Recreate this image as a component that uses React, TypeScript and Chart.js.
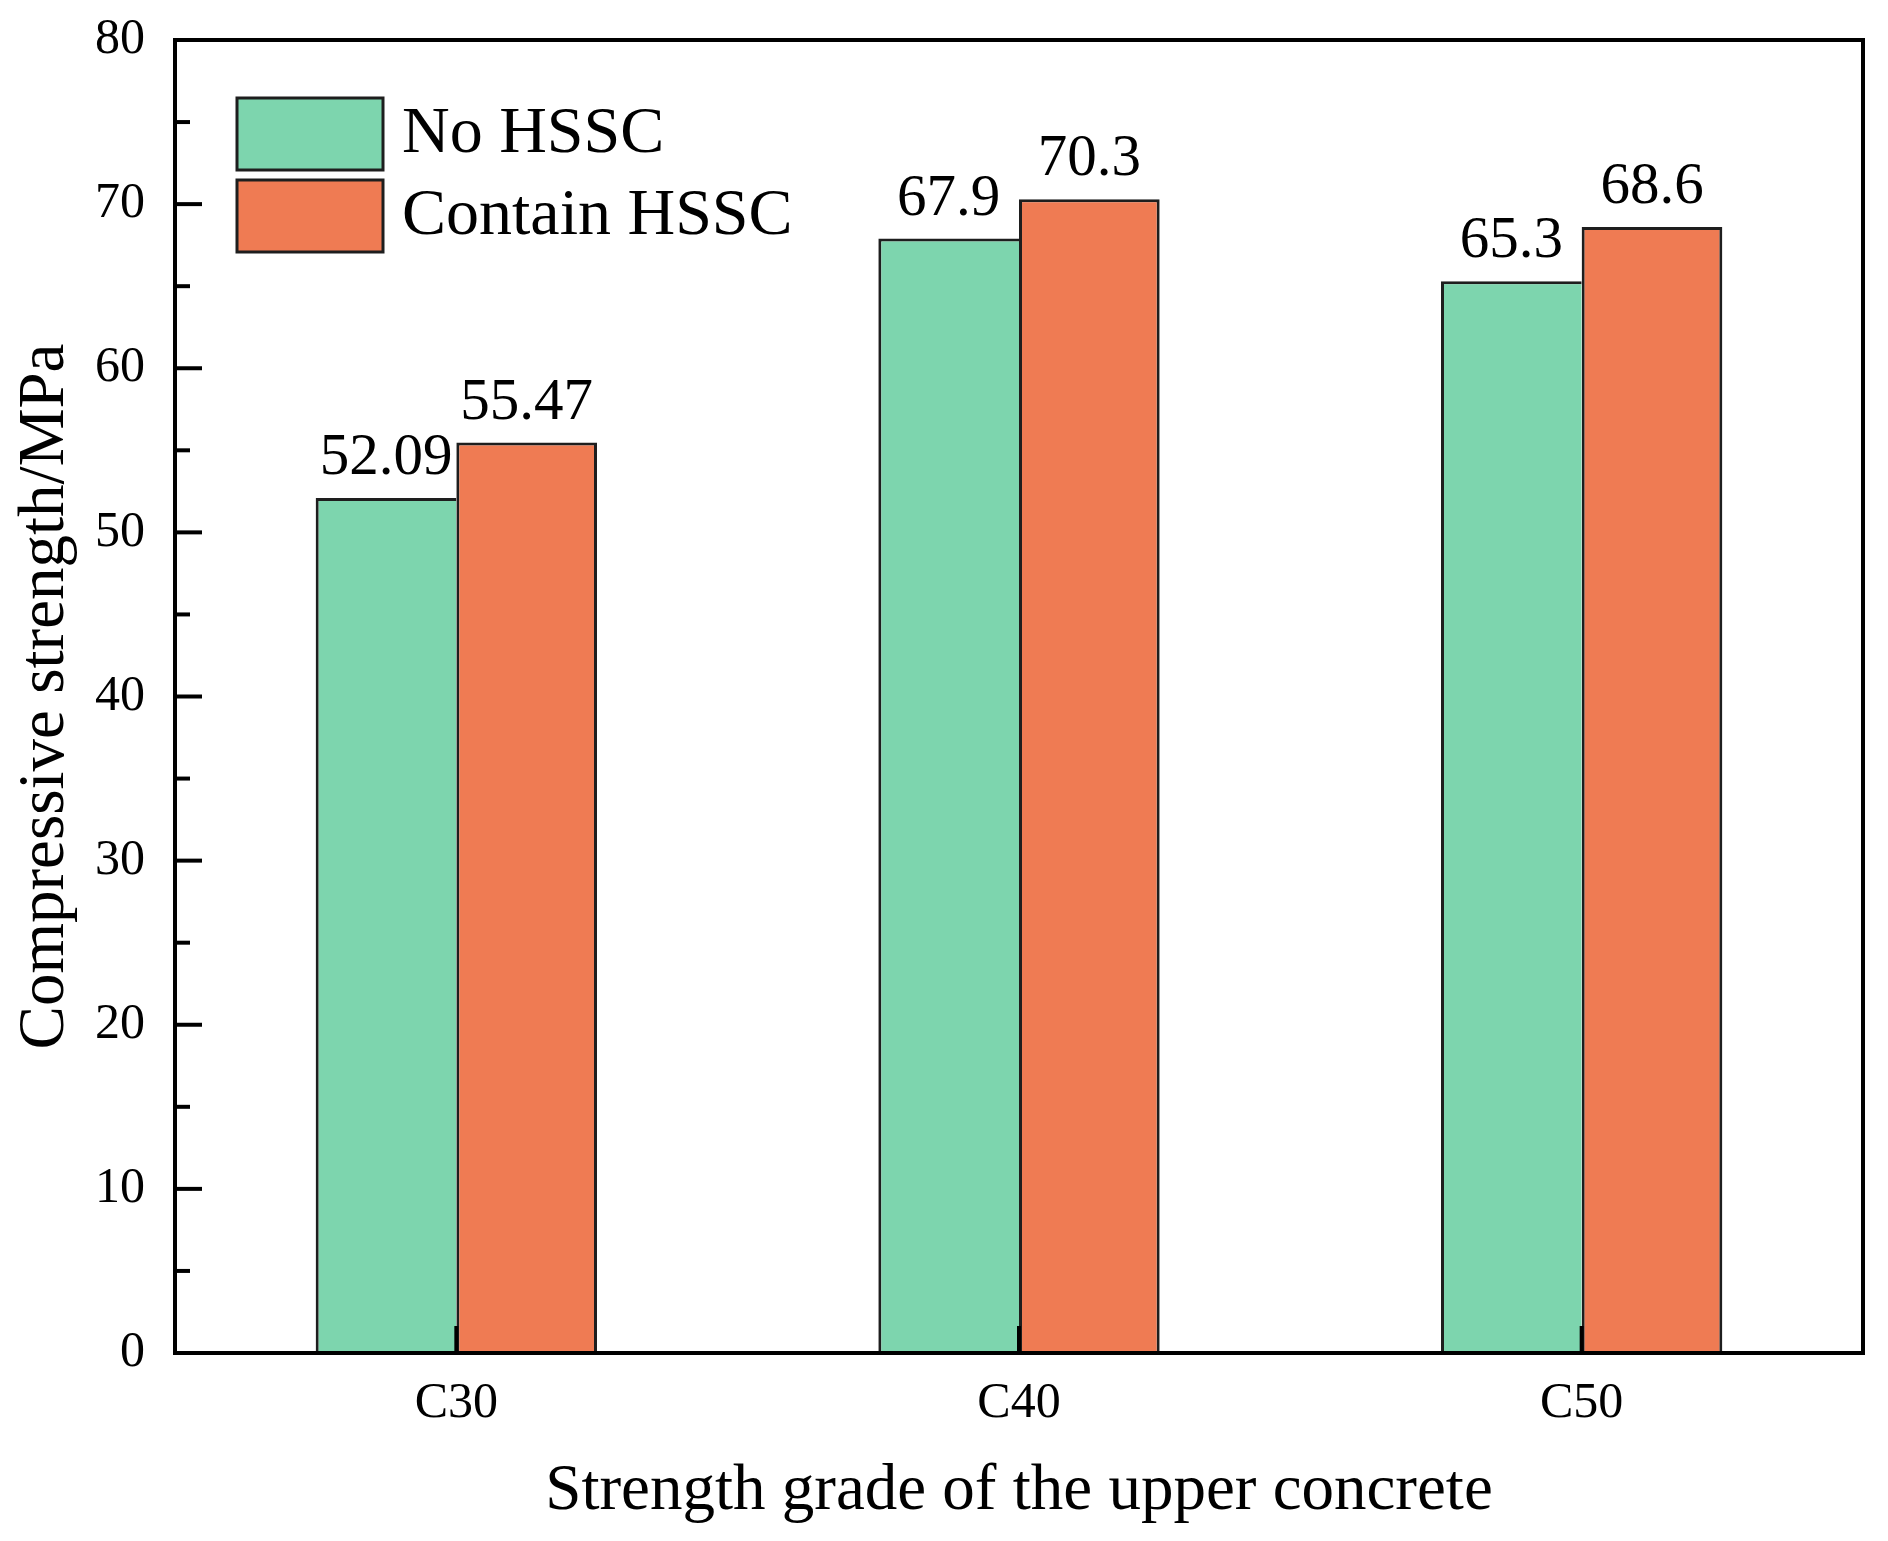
import React, { useEffect, useRef } from 'react';
import { Chart, registerables } from 'chart.js';

Chart.register(...registerables);

// ---- data ----
const categories = ['C30', 'C40', 'C50'];
const seriesNames = ['No HSSC', 'Contain HSSC'];
const noHSSC = [52.09, 67.9, 65.3];
const containHSSC = [55.47, 70.3, 68.6];
const noHSSCLabels = ['52.09', '67.9', '65.3'];
const containHSSCLabels = ['55.47', '70.3', '68.6'];
const yMin = 0;
const yMax = 80;
const yStep = 10;

const xTitle = 'Strength grade of the upper concrete';
const yTitle = 'Compressive strength/MPa';

const FONT = '"Liberation Serif", "Times New Roman", Times, serif';
const GREEN = '#7DD5AE';
const ORANGE = '#EF7B53';
const EDGE = '#1E1E1E';

const valueLabels = [noHSSCLabels, containHSSCLabels];

const decorPlugin = {
  id: 'decor',
  afterDatasetsDraw(chart: any) {
    const { ctx, chartArea } = chart;
    const { left, right, top, bottom } = chartArea;
    const ys = chart.scales.y;
    const xs = chart.scales.x;
    ctx.save();

    // value labels above bars
    ctx.font = `59px ${FONT}`;
    ctx.fillStyle = '#000';
    ctx.textAlign = 'center';
    ctx.textBaseline = 'alphabetic';
    chart.data.datasets.forEach((_ds: any, di: number) => {
      const meta = chart.getDatasetMeta(di);
      meta.data.forEach((bar: any, i: number) => {
        ctx.fillText(valueLabels[di][i], bar.x, bar.y - 24);
      });
    });

    // inward ticks
    ctx.strokeStyle = '#000';
    ctx.lineWidth = 4;
    ctx.lineCap = 'butt';
    const ticks = ys.ticks.map((t: any) => t.value);
    ticks.forEach((v: number, i: number) => {
      const py = ys.getPixelForValue(v);
      ctx.beginPath();
      ctx.moveTo(left, py);
      ctx.lineTo(left + 27, py);
      ctx.stroke();
      if (i < ticks.length - 1) {
        const pm = ys.getPixelForValue((v + ticks[i + 1]) / 2);
        ctx.beginPath();
        ctx.moveTo(left, pm);
        ctx.lineTo(left + 15, pm);
        ctx.stroke();
      }
    });
    categories.forEach((_c, i) => {
      const px = xs.getPixelForValue(i);
      ctx.beginPath();
      ctx.moveTo(px, bottom);
      ctx.lineTo(px, bottom - 27);
      ctx.stroke();
    });

    // frame
    ctx.strokeRect(left, top, right - left, bottom - top);

    // legend
    const boxW = 146;
    const boxH = 72;
    const step = 82;
    const bx = left + 62;
    const by = top + 58;
    ctx.font = `66px ${FONT}`;
    ctx.textAlign = 'left';
    ctx.textBaseline = 'middle';
    chart.data.datasets.forEach((ds: any, di: number) => {
      const y0 = by + di * step;
      ctx.fillStyle = ds.backgroundColor;
      ctx.fillRect(bx, y0, boxW, boxH);
      ctx.strokeStyle = EDGE;
      ctx.lineWidth = 3;
      ctx.strokeRect(bx, y0, boxW, boxH);
      ctx.fillStyle = '#000';
      ctx.fillText(ds.label, bx + boxW + 19, y0 + boxH / 2 + 1);
    });

    ctx.restore();
  },
};

export default function App() {
  const canvasRef = useRef<HTMLCanvasElement | null>(null);

  useEffect(() => {
    document.body.style.margin = '0';
    const canvas = canvasRef.current;
    if (!canvas) return;
    const chart = new Chart(canvas, {
      type: 'bar',
      data: {
        labels: categories,
        datasets: [
          {
            label: seriesNames[0],
            data: noHSSC,
            backgroundColor: GREEN,
            borderColor: EDGE,
            borderWidth: { top: 3, left: 3, right: 0, bottom: 0 },
            borderSkipped: 'start',
            categoryPercentage: 0.5,
            barPercentage: 1.0,
          },
          {
            label: seriesNames[1],
            data: containHSSC,
            backgroundColor: ORANGE,
            borderColor: EDGE,
            borderWidth: { top: 3, left: 3, right: 3, bottom: 0 },
            borderSkipped: 'start',
            categoryPercentage: 0.5,
            barPercentage: 1.0,
          },
        ],
      },
      options: {
        animation: false,
        responsive: true,
        maintainAspectRatio: false,
        layout: { padding: { top: 40, right: 25, left: 0, bottom: 0 } },
        plugins: {
          legend: { display: false },
          tooltip: { enabled: false },
        },
        scales: {
          x: {
            type: 'category',
            offset: true,
            grid: { display: false, drawTicks: false },
            border: { display: false },
            ticks: {
              color: '#000',
              font: { family: FONT, size: 50 },
              padding: 21,
              maxRotation: 0,
            },
            title: {
              display: true,
              text: xTitle,
              color: '#000',
              font: { family: FONT, size: 65 },
              padding: { top: 0, bottom: 10 },
            },
            afterFit: (s: any) => {
              s.height = 188;
              s.paddingLeft = 0;
              s.paddingRight = 0;
            },
          },
          y: {
            min: yMin,
            max: yMax,
            grid: { display: false, drawTicks: false },
            border: { display: false },
            ticks: {
              stepSize: yStep,
              color: '#000',
              font: { family: FONT, size: 50 },
              padding: 30,
            },
            title: {
              display: true,
              text: yTitle,
              color: '#000',
              font: { family: FONT, size: 65 },
              padding: { top: 7, bottom: 0 },
            },
            afterFit: (s: any) => {
              s.width = 175;
              s.paddingTop = 0;
              s.paddingBottom = 0;
            },
          },
        },
      },
      plugins: [decorPlugin],
    } as any);
    return () => {
      chart.destroy();
    };
  }, []);

  return (
    <div style={{ position: 'absolute', left: 0, top: 0, width: 1888, height: 1541, background: '#fff' }}>
      <canvas ref={canvasRef} />
    </div>
  );
}
